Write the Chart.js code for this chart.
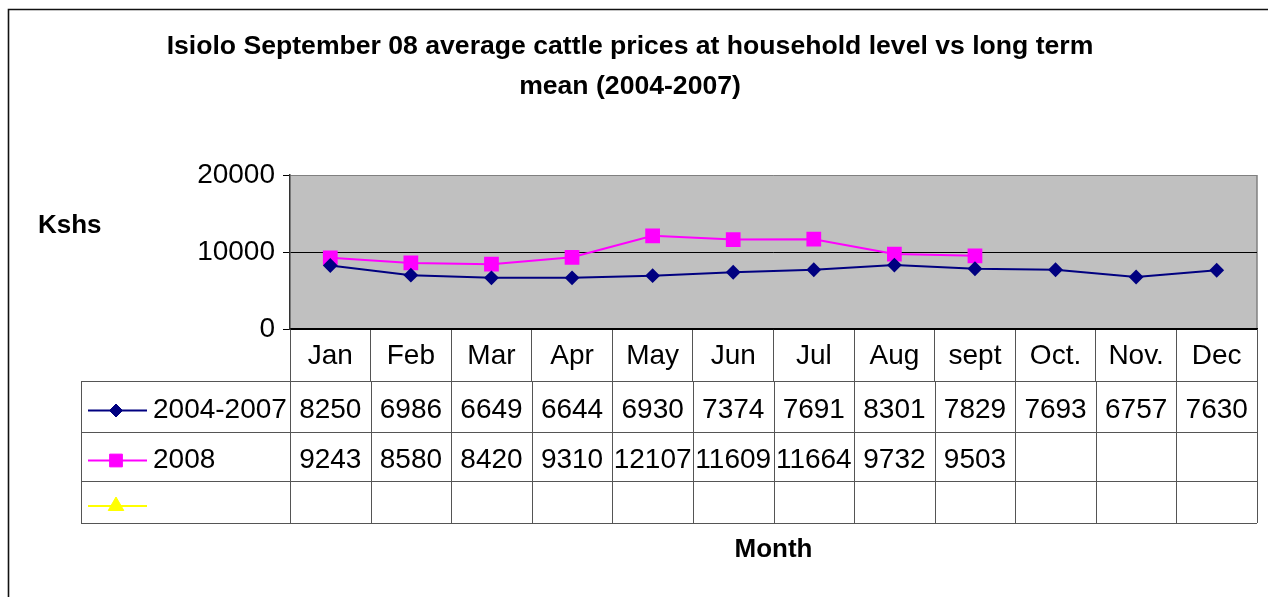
<!DOCTYPE html>
<html>
<head>
<meta charset="utf-8">
<script src="https://cdn.jsdelivr.net/npm/chart.js@4.4.1/dist/chart.umd.min.js"></script>
<style>
html,body{margin:0;padding:0;background:#fff;overflow:hidden}
#wrap{position:relative;width:1268px;height:597px}
</style>
</head>
<body>
<div id="wrap"><canvas id="c" width="1268" height="597"></canvas></div>
<script>
// ---- data ----
const months = ['Jan','Feb','Mar','Apr','May','Jun','Jul','Aug','sept','Oct.','Nov.','Dec'];
const seriesNames = ['2004-2007', '2008', ''];
const longTermMean = [8250, 6986, 6649, 6644, 6930, 7374, 7691, 8301, 7829, 7693, 6757, 7630];
const prices2008 = [9243, 8580, 8420, 9310, 12107, 11609, 11664, 9732, 9503, null, null, null];
const emptySeries = [null, null, null, null, null, null, null, null, null, null, null, null];
const yTickValues = [0, 10000, 20000];
const titleLines = ['Isiolo September 08 average cattle prices at household level vs long term', 'mean (2004-2007)'];
const yAxisTitle = 'Kshs';
const xAxisTitle = 'Month';

// ---- styling ----
const FONT = "'Liberation Sans', Arial, Helvetica, sans-serif";
Chart.defaults.font.family = FONT;
Chart.defaults.color = '#000';

const W = 1268, H = 597;
const PLOT_BOTTOM = 329;
const ROW_LINES = [52, 103, 152, 194]; // offsets below plot bottom
const TABLE_LEFT = 81;
const LINE_GRAY = '#555';

function drawMarker(ctx, style, r, x, y, color) {
  ctx.save();
  ctx.fillStyle = color; ctx.strokeStyle = color; ctx.lineWidth = 1;
  ctx.beginPath();
  if (style === 'rectRot') {
    ctx.moveTo(x, y - r); ctx.lineTo(x + r, y); ctx.lineTo(x, y + r); ctx.lineTo(x - r, y); ctx.closePath();
  } else if (style === 'rect') {
    const s = r * Math.SQRT1_2;
    ctx.rect(x - s, y - s, 2 * s, 2 * s);
  } else if (style === 'triangle') {
    ctx.moveTo(x, y - r);
    ctx.lineTo(x + r * Math.sin(2 * Math.PI / 3), y - r * Math.cos(2 * Math.PI / 3));
    ctx.lineTo(x + r * Math.sin(4 * Math.PI / 3), y - r * Math.cos(4 * Math.PI / 3));
    ctx.closePath();
  }
  ctx.fill(); ctx.stroke();
  ctx.restore();
}

const decorPlugin = {
  id: 'decor',
  beforeDraw(chart) {
    const {ctx, chartArea: ca} = chart;
    ctx.save();
    ctx.fillStyle = '#fff';
    ctx.fillRect(0, 0, W, H);
    // outer chart border (left + top visible)
    ctx.strokeStyle = '#111';
    ctx.lineWidth = 1.6;
    ctx.beginPath();
    ctx.moveTo(8.5, H + 2); ctx.lineTo(8.5, 9.5); ctx.lineTo(W + 2, 9.5);
    ctx.stroke();
    // plot background
    ctx.fillStyle = '#C0C0C0';
    ctx.fillRect(ca.left, ca.top, ca.right - ca.left, ca.bottom - ca.top);
    // right border (gray)
    ctx.strokeStyle = '#808080';
    ctx.lineWidth = 1.5;
    ctx.beginPath();
    ctx.moveTo(ca.right, ca.top); ctx.lineTo(ca.right, ca.bottom);
    ctx.stroke();
    ctx.restore();
  },
  afterDraw(chart) {
    const {ctx, chartArea: ca} = chart;
    const xs = chart.scales.x;
    const b = ca.bottom;
    const colW = xs.getPixelForValue(1) - xs.getPixelForValue(0);
    ctx.save();
    // table grid
    ctx.strokeStyle = LINE_GRAY;
    ctx.lineWidth = 1;
    ROW_LINES.forEach((off, i) => {
      const y = Math.round(b + off) + 0.5;
      ctx.beginPath();
      ctx.moveTo(TABLE_LEFT, y); ctx.lineTo(ca.right, y);
      ctx.stroke();
    });
    const top = b + ROW_LINES[0], bot = b + ROW_LINES[ROW_LINES.length - 1];
    const vx = [TABLE_LEFT];
    for (let i = 0; i <= months.length; i++) vx.push(xs.getPixelForValue(i) - colW / 2);
    vx.forEach(x => {
      const xx = Math.round(x) + 0.5;
      ctx.beginPath(); ctx.moveTo(xx, top); ctx.lineTo(xx, bot); ctx.stroke();
    });
    // rows: legend keys, names, values
    chart.data.datasets.forEach((ds, k) => {
      const y0 = b + ROW_LINES[k], y1 = b + ROW_LINES[k + 1];
      const cy = (y0 + y1) / 2;
      const ky = cy + 4;
      ctx.strokeStyle = ds.borderColor; ctx.lineWidth = 2;
      ctx.beginPath(); ctx.moveTo(88, ky); ctx.lineTo(147, ky); ctx.stroke();
      drawMarker(ctx, ds.pointStyle, ds.legendRadius, 116, ky, ds.borderColor);
      ctx.fillStyle = '#000';
      ctx.font = "28px " + FONT;
      ctx.textBaseline = 'alphabetic';
      ctx.textAlign = 'left';
      ctx.fillText(ds.label, 153, cy + 11.5);
      ctx.textAlign = 'center';
      ds.data.forEach((v, i) => {
        if (v === null || v === undefined) return;
        ctx.fillText(String(v), xs.getPixelForValue(i), cy + 11.5);
      });
    });
    // y title (horizontal)
    ctx.font = "bold 26px " + FONT;
    ctx.textAlign = 'left';
    ctx.textBaseline = 'alphabetic';
    ctx.fillStyle = '#000';
    ctx.fillText(yAxisTitle, 38, 233);
    ctx.restore();
  }
};

new Chart(document.getElementById('c'), {
  type: 'line',
  data: {
    labels: months,
    datasets: [
      {label: seriesNames[0], data: longTermMean, borderColor: '#000080', backgroundColor: '#000080',
       borderWidth: 2, pointStyle: 'rectRot', pointRadius: 6, pointHoverRadius: 6, legendRadius: 6.5, tension: 0, spanGaps: false},
      {label: seriesNames[1], data: prices2008, borderColor: '#FF00FF', backgroundColor: '#FF00FF',
       borderWidth: 2, pointStyle: 'rect', pointRadius: 9, pointHoverRadius: 9, legendRadius: 9, tension: 0, spanGaps: false},
      {label: seriesNames[2], data: emptySeries, borderColor: '#FFFF00', backgroundColor: '#FFFF00',
       borderWidth: 2, pointStyle: 'triangle', pointRadius: 8, legendRadius: 9, tension: 0}
    ]
  },
  options: {
    responsive: false,
    animation: false,
    devicePixelRatio: 1,
    layout: {padding: {left: 0, right: 8, top: 0, bottom: 0}},
    plugins: {
      legend: {display: false},
      tooltip: {enabled: false},
      title: {
        display: true,
        text: titleLines,
        color: '#000',
        font: {family: FONT, size: 26.6, weight: 'bold', lineHeight: '40px'},
        padding: {top: 27, bottom: 68}
      }
    },
    scales: {
      x: {
        offset: true,
        grid: {offset: true, drawOnChartArea: false, tickLength: 52, color: LINE_GRAY, lineWidth: 1},
        border: {display: true, color: '#000', width: 1.5},
        ticks: {font: {family: FONT, size: 28}, color: '#000', padding: -42, maxRotation: 0, minRotation: 0, autoSkip: false},
        title: {display: true, text: xAxisTitle, color: '#000', font: {family: FONT, size: 26, weight: 'bold'}, padding: {top: 0, bottom: 32}},
        afterFit(s) { s.height = H - PLOT_BOTTOM; }
      },
      y: {
        min: 0, max: 20000,
        afterBuildTicks(s) { s.ticks = yTickValues.map(v => ({value: v})); },
        grid: {
          color: c => (c.tick && c.tick.value === 20000) ? '#808080' : '#000',
          tickColor: '#000', tickLength: 7, lineWidth: 1
        },
        border: {display: true, color: '#333', width: 1.5},
        ticks: {font: {family: FONT, size: 28}, color: '#000', padding: 8, callback: v => String(v)},
        afterFit(s) { s.width = 290; }
      }
    }
  },
  plugins: [decorPlugin]
});
</script>
</body>
</html>
